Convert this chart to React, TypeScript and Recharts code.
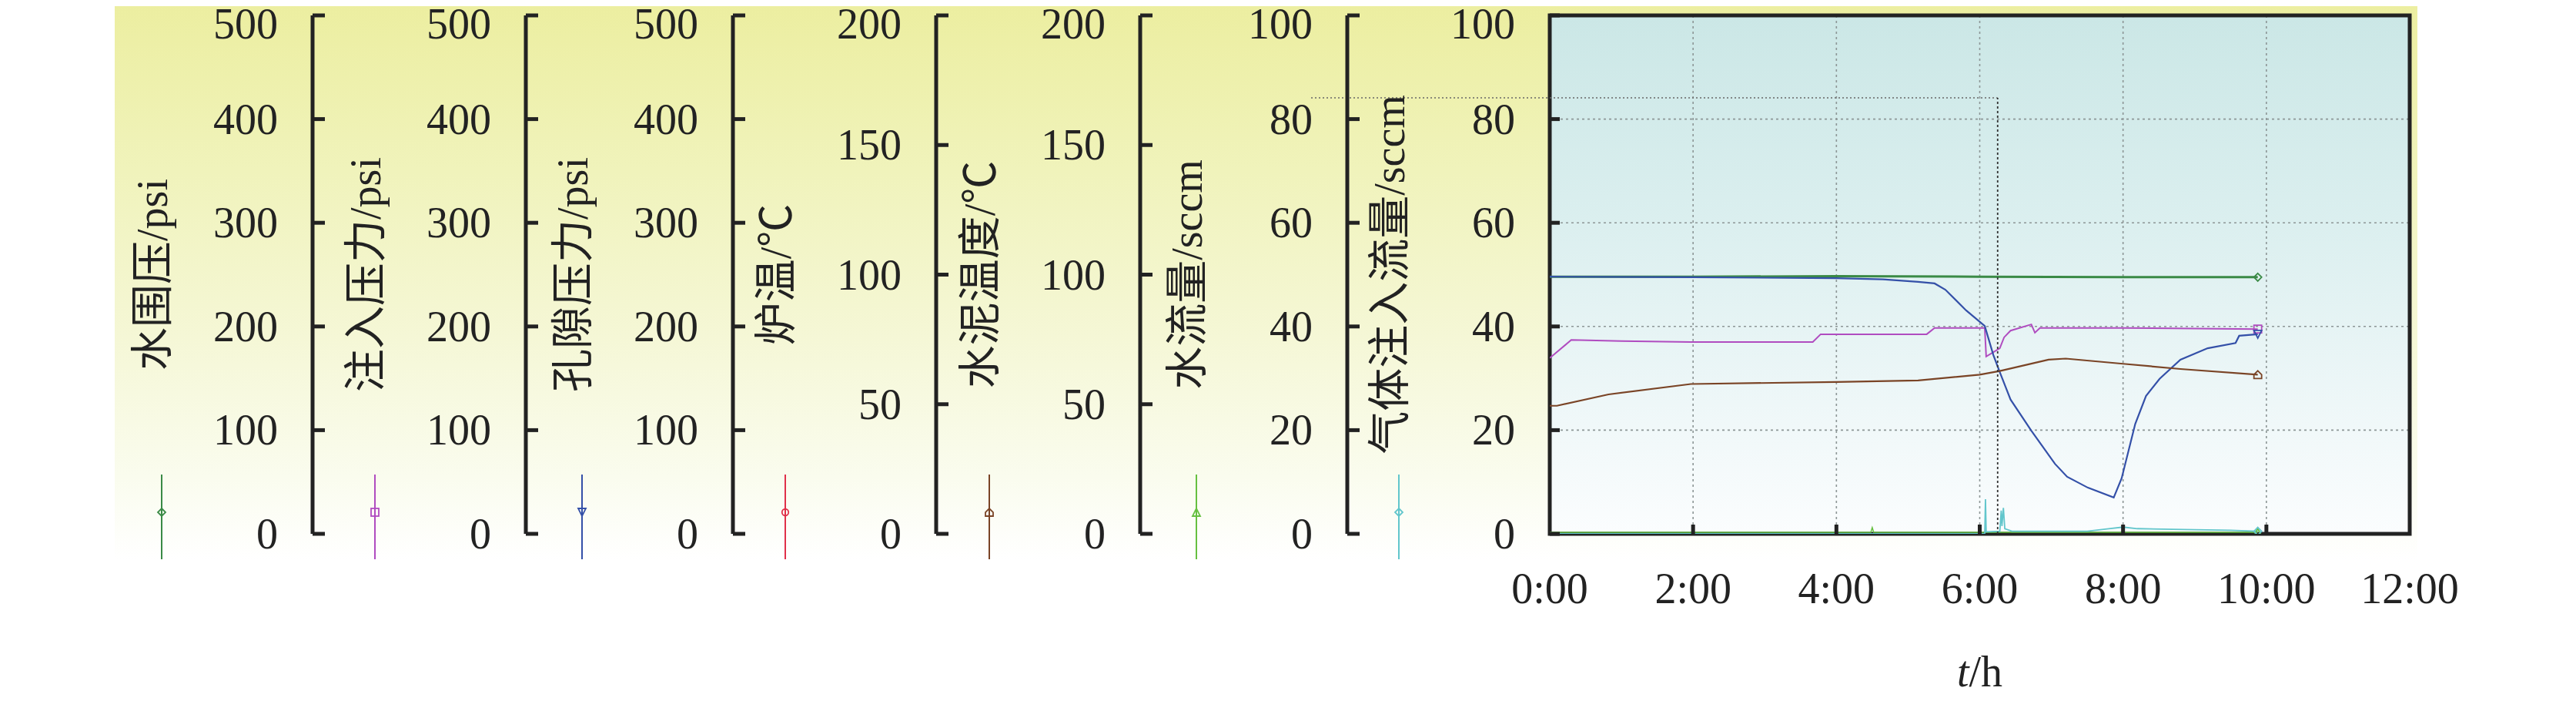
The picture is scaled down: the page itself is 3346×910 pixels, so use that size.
import React from 'react';
import { LineChart, Line, XAxis, YAxis, CartesianGrid, ReferenceLine, ReferenceArea } from 'recharts';

// ---------- data ----------
const hourTicks = [0, 2, 4, 6, 8, 10, 12];
const psiTicks = [0, 100, 200, 300, 400, 500];
const tempTicks = [0, 50, 100, 150, 200];
const flowTicks = [0, 20, 40, 60, 80, 100];

// 水围压 / psi
const confiningPressure = [
  { t: 0, v: 248 }, { t: 2, v: 248 }, { t: 4, v: 248.5 }, { t: 6, v: 248 },
  { t: 8, v: 247.5 }, { t: 9.88, v: 247.5 },
];
// 注入压力 / psi
const injectionPressure = [
  { t: 0, v: 169.5 }, { t: 0.3, v: 187 }, { t: 1.0, v: 186 }, { t: 1.97, v: 185 },
  { t: 3.67, v: 185 }, { t: 3.78, v: 192.5 }, { t: 5.26, v: 192.5 }, { t: 5.37, v: 198.5 },
  { t: 6.07, v: 198.5 }, { t: 6.09, v: 171 }, { t: 6.28, v: 179 }, { t: 6.34, v: 189.5 },
  { t: 6.43, v: 196 }, { t: 6.72, v: 202 }, { t: 6.77, v: 194 }, { t: 6.84, v: 198.5 },
  { t: 8.0, v: 198.5 }, { t: 9.0, v: 198 }, { t: 9.88, v: 197.5 },
];
// 孔隙压力 / psi
const porePressure = [
  { t: 0, v: 248 }, { t: 2, v: 247.5 }, { t: 4, v: 246.5 }, { t: 4.65, v: 245.5 },
  { t: 5.14, v: 243 }, { t: 5.37, v: 241.5 }, { t: 5.52, v: 235.5 }, { t: 5.81, v: 215.5 },
  { t: 6.07, v: 200.5 }, { t: 6.19, v: 172.5 }, { t: 6.28, v: 156 }, { t: 6.43, v: 129.5 },
  { t: 6.72, v: 99.5 }, { t: 7.05, v: 67.5 }, { t: 7.22, v: 55 }, { t: 7.51, v: 44.5 },
  { t: 7.87, v: 35 }, { t: 7.98, v: 53.5 }, { t: 8.17, v: 106 }, { t: 8.32, v: 133 },
  { t: 8.51, v: 149.5 }, { t: 8.8, v: 168 }, { t: 9.18, v: 179 }, { t: 9.57, v: 184 },
  { t: 9.62, v: 191 }, { t: 9.88, v: 192.5 },
];
// 水泥温度 / ℃
const cementTemp = [
  { t: 0, v: 49.4 }, { t: 0.1, v: 49.4 }, { t: 0.82, v: 53.8 }, { t: 1.97, v: 57.8 },
  { t: 4, v: 58.6 }, { t: 5.14, v: 59.2 }, { t: 6.0, v: 61.4 }, { t: 6.28, v: 62.8 },
  { t: 6.96, v: 67.2 }, { t: 7.2, v: 67.6 }, { t: 8.0, v: 65.6 }, { t: 8.8, v: 63.6 },
  { t: 9.88, v: 61.4 },
];
// 水流量 / sccm
const waterFlow = [
  { t: 0, v: 0.3 }, { t: 4.48, v: 0.3 }, { t: 4.5, v: 1.2 }, { t: 4.52, v: 0.3 }, { t: 9.88, v: 0.3 },
];
// 气体注入流量 / sccm
const gasFlow = [
  { t: 0, v: 0 }, { t: 6.07, v: 0 }, { t: 6.08, v: 6.7 }, { t: 6.09, v: 0.4 },
  { t: 6.28, v: 0.5 }, { t: 6.3, v: 4.5 }, { t: 6.31, v: 1.5 }, { t: 6.33, v: 5.0 },
  { t: 6.35, v: 1.0 }, { t: 6.45, v: 0.5 }, { t: 7.5, v: 0.5 }, { t: 7.8, v: 1.0 },
  { t: 8.0, v: 1.3 }, { t: 8.2, v: 1.0 }, { t: 9.0, v: 0.8 }, { t: 9.5, v: 0.7 }, { t: 9.88, v: 0.5 },
];

const cursorTime = 6.25;
const cursorValue = 84.1;
const cursorLeftTime = -3.33;

// ---------- axis configuration (outermost first) ----------
const axes = [
  { id: 'g', title: '水围压/psi', ticks: psiTicks, color: '#3a8a46', shape: 'diamond', width: 260 },
  { id: 'f', title: '注入压力/psi', ticks: psiTicks, color: '#b04cc0', shape: 'square', width: 277 },
  { id: 'e', title: '孔隙压力/psi', ticks: psiTicks, color: '#3450a8', shape: 'triDown', width: 269 },
  { id: 'd', title: '炉温/℃', ticks: tempTicks, color: '#e0304a', shape: 'circle', width: 264 },
  { id: 'c', title: '水泥温度/℃', ticks: tempTicks, color: '#7a4426', shape: 'house', width: 265 },
  { id: 'b', title: '水流量/sccm', ticks: flowTicks, color: '#66c040', shape: 'triUp', width: 269 },
  { id: 'a', title: '气体注入流量/sccm', ticks: flowTicks, color: '#62c6cc', shape: 'diamond', width: 263 },
];

// ---------- layout / style ----------
const FONT = "'Liberation Serif', 'Times New Roman', 'Noto Sans CJK SC', serif";
const FS = 56;
const CHART_W = 3330;
const CHART_H = 894;
const MARGIN = { top: 12, right: 208, bottom: 9, left: 138 };
const X_AXIS_H = 200;
const PLOT_H = CHART_H - MARGIN.top - MARGIN.bottom - X_AXIS_H;
const INK = '#222';

function Marker({ shape, cx, cy, color, s = 5 }: any) {
  const common = { fill: 'none', stroke: color, strokeWidth: 1.8 };
  switch (shape) {
    case 'diamond':
      return <polygon points={`${cx},${cy - s} ${cx + s},${cy} ${cx},${cy + s} ${cx - s},${cy}`} {...common} />;
    case 'square':
      return <rect x={cx - s} y={cy - s} width={2 * s} height={2 * s} {...common} />;
    case 'triDown':
      return <polygon points={`${cx - s},${cy - s} ${cx + s},${cy - s} ${cx},${cy + s}`} {...common} />;
    case 'triUp':
      return <polygon points={`${cx - s},${cy + s} ${cx + s},${cy + s} ${cx},${cy - s}`} {...common} />;
    case 'circle':
      return <circle cx={cx} cy={cy} r={s * 0.85} {...common} />;
    case 'house':
      return <polygon points={`${cx - s},${cy + s} ${cx + s},${cy + s} ${cx + s},${cy} ${cx},${cy - s} ${cx - s},${cy}`} {...common} />;
    default:
      return null;
  }
}

function makeYTick(cfg: any, tickLen: number) {
  const max = cfg.ticks[cfg.ticks.length - 1];
  return (props: any) => {
    const { x, y, payload } = props;
    const v = payload.value;
    const ty = v === max ? y + 11 : y;
    return (
      <g>
        <line x1={x} x2={x + tickLen} y1={y} y2={y} stroke={INK} strokeWidth={5} />
        <text x={x - 45} y={ty + 19} textAnchor="end" fontFamily={FONT} fontSize={FS} fill={INK}>
          {v}
        </text>
        {v === 0 && (
          <g>
            <text
              x={x - 208}
              y={y - PLOT_H / 2}
              transform={`rotate(-90 ${x - 208} ${y - PLOT_H / 2})`}
              textAnchor="middle"
              dominantBaseline="central"
              fontFamily={FONT}
              fontSize={FS}
              fill={INK}
            >
              {cfg.title}
            </text>
            <line x1={x - 196} x2={x - 196} y1={y - 77} y2={y + 33} stroke={cfg.color} strokeWidth={2} />
            <Marker shape={cfg.shape} cx={x - 196} cy={y - 28} color={cfg.color} s={5} />
          </g>
        )}
      </g>
    );
  };
}

function XTick(props: any) {
  const { x, y, payload } = props;
  const v = payload.value;
  return (
    <g>
      {v > 0 && v < 12 && <line x1={x} x2={x} y1={y} y2={y - 12} stroke={INK} strokeWidth={5} />}
      <text x={x} y={y + 90} textAnchor="middle" fontFamily={FONT} fontSize={FS} fill={INK}>
        {`${v}:00`}
      </text>
      {v === 6 && (
        <text x={x} y={y + 198} textAnchor="middle" fontFamily={FONT} fontSize={FS} fill={INK}>
          <tspan fontStyle="italic">t</tspan>
          <tspan>/h</tspan>
        </text>
      )}
    </g>
  );
}

function endDot(shape: string, color: string, count: number) {
  return (p: any) => {
    if (p.index !== count - 1) return <g key={p.key} />;
    return (
      <g key={p.key}>
        <Marker shape={shape} cx={p.cx} cy={p.cy} color={color} s={5} />
      </g>
    );
  };
}

const series = [
  { data: confiningPressure, axis: 'g', color: '#3a8a46', shape: 'diamond', w: 3 },
  { data: injectionPressure, axis: 'f', color: '#b04cc0', shape: 'square', w: 2 },
  { data: porePressure, axis: 'e', color: '#3450a8', shape: 'triDown', w: 2.2 },
  { data: cementTemp, axis: 'c', color: '#7a4426', shape: 'house', w: 2.2 },
  { data: waterFlow, axis: 'b', color: '#66c040', shape: 'triUp', w: 1.5 },
  { data: gasFlow, axis: 'a', color: '#62c6cc', shape: 'diamond', w: 1.8 },
];

export default function App() {
  return (
    <div style={{ position: 'relative', width: CHART_W, height: CHART_H }}>
      <div
        style={{
          position: 'absolute',
          left: 141,
          top: -4,
          width: 2991,
          height: 723,
          background:
            'linear-gradient(to bottom, #eceea0 0%, #f0f3bb 30%, #f5f7d6 60%, #fafcee 85%, #ffffff 100%)',
        }}
      />
      <div style={{ position: 'absolute', left: 0, top: 0 }}>
        <LineChart width={CHART_W} height={CHART_H} margin={MARGIN}>
          <defs>
            <linearGradient id="plotBg" x1="0" y1="0" x2="0" y2="1">
              <stop offset="0%" stopColor="#cbe7e6" />
              <stop offset="40%" stopColor="#dbefef" />
              <stop offset="75%" stopColor="#eef7f8" />
              <stop offset="100%" stopColor="#fbfdfe" />
            </linearGradient>
          </defs>
          <XAxis
            xAxisId="x"
            dataKey="t"
            type="number"
            domain={[0, 12]}
            ticks={hourTicks}
            interval={0}
            height={X_AXIS_H}
            tickSize={0}
            tickMargin={0}
            tickLine={false}
            axisLine={false}
            tick={<XTick />}
            allowDataOverflow
          />
          {axes.map((a) => (
            <YAxis
              key={a.id}
              yAxisId={a.id}
              orientation="left"
              type="number"
              width={a.width}
              domain={[0, a.ticks[a.ticks.length - 1]]}
              ticks={a.ticks}
              interval={0}
              tickSize={0}
              tickMargin={0}
              tickLine={false}
              axisLine={a.id === 'a' ? false : { stroke: INK, strokeWidth: 5 }}
              tick={makeYTick(a, a.id === 'a' ? 13 : 16)}
              allowDataOverflow
            />
          ))}
          <CartesianGrid
            xAxisId="x"
            yAxisId="a"
            fill="url(#plotBg)"
            stroke="#8d9696"
            strokeWidth={1.6}
            strokeDasharray="3 4"
          />
          {series.map((s, i) => (
            <Line
              key={i}
              xAxisId="x"
              yAxisId={s.axis}
              data={s.data}
              dataKey="v"
              type="linear"
              stroke={s.color}
              strokeWidth={s.w}
              dot={endDot(s.shape, s.color, s.data.length)}
              activeDot={false}
              isAnimationActive={false}
            />
          ))}
          <ReferenceLine
            xAxisId="x"
            yAxisId="a"
            segment={[{ x: cursorLeftTime, y: cursorValue }, { x: cursorTime, y: cursorValue }]}
            stroke="#666"
            strokeWidth={1.6}
            strokeDasharray="2 3"
            ifOverflow="visible"
          />
          <ReferenceLine
            xAxisId="x"
            yAxisId="a"
            segment={[{ x: cursorTime, y: 0 }, { x: cursorTime, y: cursorValue }]}
            stroke="#333"
            strokeWidth={1.8}
            strokeDasharray="3 3"
            ifOverflow="visible"
          />
          <ReferenceArea
            xAxisId="x"
            yAxisId="a"
            x1={0}
            x2={12}
            y1={0}
            y2={100}
            fill="none"
            stroke={INK}
            strokeWidth={5}
            ifOverflow="visible"
          />
        </LineChart>
      </div>
    </div>
  );
}
